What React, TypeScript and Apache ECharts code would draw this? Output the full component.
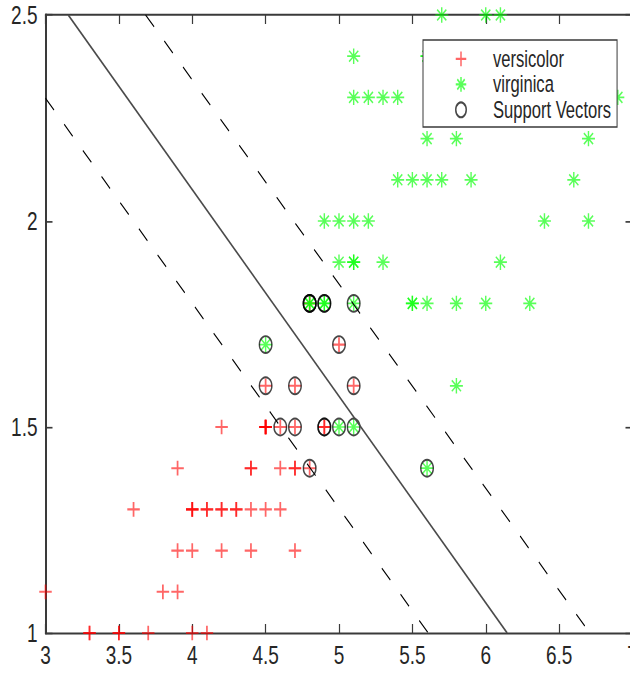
import React, { useEffect, useRef } from "react";
import * as echarts from "echarts";

// Iris versicolor: petal length (cm) and petal width (cm)
const versicolorPetalLength = [
  4.7, 4.5, 4.9, 4.0, 4.6, 4.5, 4.7, 3.3, 4.6, 3.9, 3.5, 4.2, 4.0, 4.7, 3.6, 4.4, 4.5,
  4.1, 4.5, 3.9, 4.8, 4.0, 4.9, 4.7, 4.3, 4.4, 4.8, 5.0, 4.5, 3.5, 3.8, 3.7, 3.9, 5.1,
  4.5, 4.5, 4.7, 4.4, 4.1, 4.0, 4.4, 4.6, 4.0, 3.3, 4.2, 4.2, 4.2, 4.3, 3.0, 4.1,
];
const versicolorPetalWidth = [
  1.4, 1.5, 1.5, 1.3, 1.5, 1.3, 1.6, 1.0, 1.3, 1.4, 1.0, 1.5, 1.0, 1.4, 1.3, 1.4, 1.5,
  1.0, 1.5, 1.1, 1.8, 1.3, 1.5, 1.2, 1.3, 1.4, 1.4, 1.7, 1.5, 1.0, 1.1, 1.0, 1.2, 1.6,
  1.5, 1.6, 1.5, 1.3, 1.3, 1.3, 1.2, 1.4, 1.2, 1.0, 1.3, 1.2, 1.3, 1.3, 1.1, 1.3,
];

// Iris virginica: petal length (cm) and petal width (cm)
const virginicaPetalLength = [
  6.0, 5.1, 5.9, 5.6, 5.8, 6.6, 4.5, 6.3, 5.8, 6.1, 5.1, 5.3, 5.5, 5.0, 5.1, 5.3, 5.5,
  6.7, 6.9, 5.0, 5.7, 4.9, 6.7, 4.9, 5.7, 6.0, 4.8, 4.9, 5.6, 5.8, 6.1, 6.4, 5.6, 5.1,
  5.6, 6.1, 5.6, 5.5, 4.8, 5.4, 5.6, 5.1, 5.1, 5.9, 5.7, 5.2, 5.0, 5.2, 5.4, 5.1,
];
const virginicaPetalWidth = [
  2.5, 1.9, 2.1, 1.8, 2.2, 2.1, 1.7, 1.8, 1.8, 2.5, 2.0, 1.9, 2.1, 2.0, 2.4, 2.3, 1.8,
  2.2, 2.3, 1.5, 2.3, 2.0, 2.0, 1.8, 2.1, 1.8, 1.8, 1.8, 2.1, 1.6, 1.9, 2.0, 2.2, 1.5,
  1.4, 2.3, 2.4, 1.8, 1.8, 2.1, 2.4, 2.3, 1.9, 2.3, 2.5, 2.3, 1.9, 2.0, 2.3, 1.8,
];

// Support vectors of the linear SVM (repeated samples listed once each)
const supportVectorLength = [
  4.8, 4.8, 4.8, 4.9, 4.9, 5.1, 4.5, 5.0, 4.5, 4.7, 5.1, 4.6, 4.7, 4.9, 4.9, 5.0, 5.1,
  4.8, 5.6,
];
const supportVectorWidth = [
  1.8, 1.8, 1.8, 1.8, 1.8, 1.8, 1.7, 1.7, 1.6, 1.6, 1.6, 1.5, 1.5, 1.5, 1.5, 1.5, 1.5,
  1.4, 1.4,
];

// Decision boundary and margin lines, as end points inside the axes
const boundaryLine = [
  [3.155, 2.5],
  [6.146, 1.0],
];
const upperMarginLine = [
  [3.682, 2.5],
  [6.709, 1.0],
];
const lowerMarginLine = [
  [3.0, 2.298],
  [5.608, 1.0],
];

// Axis ranges and tick steps
const xRange = [3, 7];
const yRange = [1, 2.5];
const xStep = 0.5;
const yStep = 0.5;

const seriesNames = ["versicolor", "virginica", "Support Vectors"];

// The figure is drawn in a short box and stretched vertically on the page
const PAGE_W = 630;
const PAGE_H = 673;
const STRETCH = 1.4;
const sy = (v: number) => v / STRETCH;

const FONT = "'Liberation Sans', Arial, sans-serif";
const AXIS_COLOR = "#3a3a3a";
const TEXT_COLOR = "#262626";
const PLUS = "path://M0,6L12,6M6,0L6,12";
const STAR = "path://M0,6L12,6M6,0L6,12M1.76,1.76L10.24,10.24M1.76,10.24L10.24,1.76";

const zip = (xs: number[], ys: number[]) => xs.map((x, i) => [x, ys[i]]);

const axisCommon = (min: number, max: number, interval: number, lineWidth: number, tickLen: number) => ({
  type: "value" as const,
  min,
  max,
  interval,
  splitLine: { show: false },
  axisLine: { show: true, onZero: false, lineStyle: { color: AXIS_COLOR, width: lineWidth } },
  axisTick: { show: true, inside: true, length: tickLen, lineStyle: { color: AXIS_COLOR, width: 1.2 } },
});

const xLabel = { fontFamily: FONT, fontSize: 19, color: TEXT_COLOR, margin: 6 };
const yLabel = { fontFamily: FONT, fontSize: 19, color: TEXT_COLOR, margin: 8 };

const dashed = { color: "#000000", width: 1, type: [12, 14.4] };

function buildOption() {
  const top = sy(15);
  const bottom = sy(633);
  return {
    animation: false,
    backgroundColor: "#ffffff",
    grid: {
      left: 45.5,
      top,
      width: 587,
      height: bottom - top,
      containLabel: false,
      outerBoundsMode: "none",
    },
    xAxis: [
      { ...axisCommon(xRange[0], xRange[1], xStep, 1.4, sy(9)), position: "bottom", axisLabel: xLabel },
      { ...axisCommon(xRange[0], xRange[1], xStep, 1.4, sy(9)), position: "top", axisLabel: { show: false } },
    ],
    yAxis: [
      { ...axisCommon(yRange[0], yRange[1], yStep, 2, 7), position: "left", axisLabel: yLabel },
      { ...axisCommon(yRange[0], yRange[1], yStep, 2, 7), position: "right", axisLabel: { show: false } },
    ],
    legend: {
      data: [
        { name: seriesNames[0], icon: PLUS },
        { name: seriesNames[1], icon: STAR },
        { name: seriesNames[2], icon: "circle" },
      ],
      orient: "vertical",
      left: 423,
      top: sy(40),
      padding: [4.4, 6, 3.1, 32],
      itemWidth: 12,
      itemHeight: 10.5,
      itemGap: 0,
      selectedMode: false,
      backgroundColor: "#ffffff",
      borderColor: AXIS_COLOR,
      borderWidth: 1,
      borderRadius: 0,
      itemStyle: { borderWidth: 1.5 },
      textStyle: {
        fontFamily: FONT,
        fontSize: 16.6,
        color: TEXT_COLOR,
        lineHeight: 18.2,
        padding: [0, 0, 0, 21],
      },
    },
    series: [
      {
        name: seriesNames[0],
        type: "scatter",
        data: zip(versicolorPetalLength, versicolorPetalWidth),
        symbol: PLUS,
        symbolSize: [12.5, 10.5],
        itemStyle: { color: "transparent", borderColor: "#ff0000", borderWidth: 1.6, opacity: 0.6 },
        z: 2,
        silent: true,
      },
      {
        name: seriesNames[1],
        type: "scatter",
        data: zip(virginicaPetalLength, virginicaPetalWidth),
        symbol: STAR,
        symbolSize: [13, 11],
        itemStyle: { color: "transparent", borderColor: "#00ff00", borderWidth: 1.3, opacity: 0.65 },
        z: 2,
        silent: true,
      },
      {
        name: seriesNames[2],
        type: "scatter",
        data: zip(supportVectorLength, supportVectorWidth),
        symbol: "circle",
        symbolSize: [12.5, 12],
        itemStyle: { color: "transparent", borderColor: "#000000", borderWidth: 1.4, opacity: 0.72 },
        z: 3,
        silent: true,
      },
      {
        name: "boundary",
        type: "line",
        data: boundaryLine,
        symbol: "none",
        lineStyle: { color: "#4a4a4a", width: 1.4 },
        z: 4,
        silent: true,
      },
      {
        name: "margin-upper",
        type: "line",
        data: upperMarginLine,
        symbol: "none",
        lineStyle: dashed,
        z: 4,
        silent: true,
      },
      {
        name: "margin-lower",
        type: "line",
        data: lowerMarginLine,
        symbol: "none",
        lineStyle: dashed,
        z: 4,
        silent: true,
      },
    ],
  };
}

export default function App() {
  const ref = useRef<HTMLDivElement>(null);
  useEffect(() => {
    if (!ref.current) return;
    const chart = echarts.init(ref.current, null, { renderer: "svg" });
    chart.setOption(buildOption() as any);
    return () => chart.dispose();
  }, []);
  return (
    <div
      ref={ref}
      style={{
        position: "absolute",
        left: 0,
        top: 0,
        width: PAGE_W,
        height: PAGE_H / STRETCH,
        transform: `scaleY(${STRETCH})`,
        transformOrigin: "0 0",
        background: "#ffffff",
      }}
    />
  );
}
